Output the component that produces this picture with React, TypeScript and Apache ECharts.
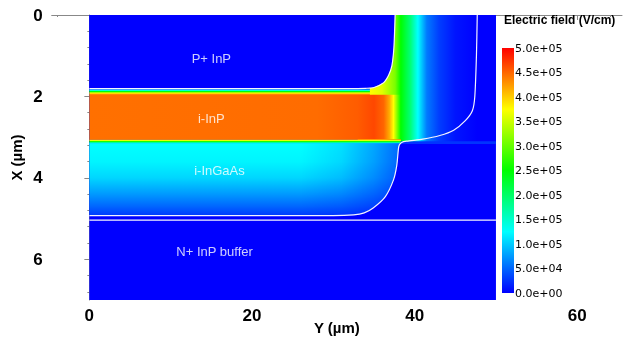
import React, { useEffect, useRef } from 'react';
import * as echarts from 'echarts';

// ---- axis ticks ----
const xMajorTicks = [0, 20, 40, 60];
const xMinorTicks = [-4, 4, 8, 12, 16, 24, 28, 32, 36, 44, 48, 52, 56, 64];
const yMajorTicks = [0, 2, 4, 6];
const yMinorTicks = [0.4, 0.8, 1.2, 1.6, 2.4, 2.8, 3.2, 3.6, 4.4, 4.8, 5.2, 5.6, 6.4, 6.8];

// ---- colour scale (V/cm) ----
const scaleKnots = [0, 1.25e5, 2.5e5, 3.75e5, 5e5];
const scaleColors = [[0, 0, 255], [0, 255, 255], [0, 255, 0], [255, 255, 0], [255, 0, 0]];
const scaleMax = 5e5;
const scaleStep = 5e4;

// ---- device extent (µm) ----
const deviceWidth = 50;
const deviceDepth = 7;

// ---- layer labels ----
const layerNames = ['P+ InP', 'i-InP', 'i-InGaAs', 'N+ InP buffer'];
const layerLabelY = [15, 15, 16, 15.4];
const layerLabelX = [1.06, 2.53, 3.81, 5.8];

// ---- field across the mesa edge, top layers (Y µm -> V/cm) ----
const edgeY = [33, 36, 37.6, 38.3, 39.5, 40.4, 41.5, 43, 45, 47.7];
const edgeE = [3.9e5, 3.6e5, 3.1e5, 2.5e5, 1.9e5, 1.25e5, 0.6e5, 0.3e5, 0.1e5, 0];
const edgeBottomX = 3.12;

// ---- field along the i-InP layer (Y µm -> V/cm) ----
const inpY = [0, 28, 33, 35, 36.2, 36.9, 37.4, 38.3];
const inpE = [4.45e5, 4.47e5, 4.55e5, 4.65e5, 4.5e5, 4.15e5, 3.75e5, 2.5e5];

// ---- P+/i-InP interface (X µm -> V/cm) ----
const topTransX = [1.81, 1.85, 1.88, 1.91, 1.94, 1.97];
const topTransE = [0, 1.25e5, 2.5e5, 3.5e5, 4.2e5, 4.45e5];

// ---- i-InP/i-InGaAs interface (X µm -> V/cm) ----
const botTransX = [3.05, 3.08, 3.11, 3.14, 3.16];
const botTransE = [4.45e5, 3.75e5, 2.5e5, 1.5e5, 1.25e5];

// ---- field down the i-InGaAs layer (X µm -> V/cm) ----
const gaX = [3.16, 3.6, 4.0, 4.4, 4.7, 4.93];
const gaE = [1.25e5, 1.2e5, 1.05e5, 0.75e5, 0.5e5, 0.28e5];

// ---- lateral decay of the i-InGaAs field near the edge (Y µm -> fraction) ----
const fadeY = [26, 31, 35, 38.3];
const fadeA = [0, 0.12, 0.35, 0.6];

// ---- thin cap line at X≈3.13 beyond the mesa ----
const capE = 0.25e5;

// ---- depletion boundaries (white lines) ----
const pEdgeY = [0, 32, 34.0, 35.0, 36.2, 36.8, 37.2, 37.45, 37.6];
const pEdgeX = [1.81, 1.81, 1.8, 1.78, 1.66, 1.48, 1.25, 0.8, 0];
const nEdgeY = [47.7, 47.6, 47.4, 47.1, 46.2, 44.8, 43.1, 41, 39, 38.4, 38.1, 38.0, 37.8, 37.4, 36.4, 34.9, 33.8, 32.5, 30, 0];
const nEdgeX = [0, 1.0, 2.0, 2.35, 2.6, 2.83, 2.96, 3.05, 3.1, 3.13, 3.2, 3.3, 3.7, 4.05, 4.46, 4.74, 4.86, 4.91, 4.93, 4.93];
const interfaceX = 5.04;

const FONT = '"Liberation Sans", Arial, sans-serif';

function colorOf(v: number): string {
  const t = Math.max(0, Math.min(scaleMax, v));
  for (let i = 0; i < scaleKnots.length - 1; i++) {
    if (t <= scaleKnots[i + 1]) {
      const f = (t - scaleKnots[i]) / (scaleKnots[i + 1] - scaleKnots[i]);
      const a = scaleColors[i], b = scaleColors[i + 1];
      const c = a.map((x, k) => Math.round(x + (b[k] - x) * f));
      return `rgb(${c[0]},${c[1]},${c[2]})`;
    }
  }
  const c = scaleColors[scaleColors.length - 1];
  return `rgb(${c[0]},${c[1]},${c[2]})`;
}

function fieldStops(pos: number[], val: number[]) {
  const p0 = pos[0], p1 = pos[pos.length - 1];
  const span = p1 - p0 || 1;
  const out: { offset: number; color: string }[] = [];
  const push = (p: number, v: number) => out.push({ offset: Math.max(0, Math.min(1, (p - p0) / span)), color: colorOf(v) });
  for (let i = 0; i < pos.length - 1; i++) {
    push(pos[i], val[i]);
    const a = val[i], b = val[i + 1];
    const knots = scaleKnots.filter(k => (k > Math.min(a, b) && k < Math.max(a, b)));
    if (b < a) knots.reverse();
    knots.forEach(k => push(pos[i] + (pos[i + 1] - pos[i]) * (k - a) / (b - a), k));
  }
  push(pos[pos.length - 1], val[val.length - 1]);
  return out;
}

function fmtExp(v: number): string {
  if (v === 0) return '0.0e+00';
  const e = Math.floor(Math.log10(v) + 1e-9);
  const m = v / Math.pow(10, e);
  return `${m.toFixed(1)}e+${String(e).padStart(2, '0')}`;
}

const rect = (y0: number, y1: number, x0: number, x1: number) => [[y0, x0], [y1, x0], [y1, x1], [y0, x1]];

export default function App() {
  const ref = useRef<HTMLDivElement>(null);
  useEffect(() => {
    if (!ref.current) return;
    const chart = echarts.init(ref.current, null, { renderer: 'svg' });

    const pEdgePts = pEdgeY.map((y, i) => [y, pEdgeX[i]]);
    const nEdgePts = nEdgeY.map((y, i) => [y, nEdgeX[i]]);
    const pPoly = [[0, 0], ...pEdgePts.slice().reverse()];
    const gaPoly = [[0, 3.15], [38.3, 3.15], ...nEdgePts.slice(10)];

    const regions: any[] = [
      { poly: rect(0, deviceWidth, 0, deviceDepth), dir: 'h', at: [0, deviceWidth], val: [0, 0] },
      { poly: rect(edgeY[0], deviceWidth, 0, edgeBottomX), dir: 'h', at: edgeY, val: edgeE },
      { poly: rect(0, 34.5, 1.8, 1.97), dir: 'v', at: topTransX, val: topTransE },
      { poly: rect(0, 38.3, 1.96, 3.06), dir: 'h', at: inpY, val: inpE },
      { poly: rect(0, 38.3, 3.05, 3.16), dir: 'v', at: botTransX, val: botTransE },
      { poly: gaPoly, dir: 'v', at: gaX, val: gaE },
      { poly: gaPoly, dir: 'h', at: fadeY, alpha: fadeA },
      { poly: pPoly, dir: 'h', at: [0, deviceWidth], val: [0, 0] },
      { poly: rect(38.3, deviceWidth, 3.1, 3.17), dir: 'h', at: [38.3, deviceWidth], val: [capE, capE] },
    ];

    const option: any = {
      animation: false,
      title: {
        text: 'Electric field (V/cm)', left: 504, top: 14, padding: 0,
        textStyle: { fontSize: 12, fontWeight: 'bold', color: '#000', fontFamily: FONT },
      },
      grid: [
        { left: 51.7, top: 15, width: 570.3, height: 285, outerBoundsMode: 'none', containLabel: false },
        { left: 502, top: 48, width: 12, height: 245, outerBoundsMode: 'none', containLabel: false },
      ],
      xAxis: [
        {
          gridIndex: 0, type: 'value', min: -4.63, max: 65.5, position: 'bottom',
          axisLine: { lineStyle: { color: '#888' } },
          axisTick: { customValues: xMajorTicks, length: 5, lineStyle: { color: '#888' } },
          axisLabel: { customValues: xMajorTicks, fontSize: 17, fontWeight: 'bold', color: '#000', margin: 7, fontFamily: FONT },
          splitLine: { show: false },
          name: 'Y (µm)', nameLocation: 'middle', nameGap: 20, nameMoveOverlap: false,
          nameTextStyle: { fontSize: 15, fontWeight: 'bold', color: '#000', fontFamily: FONT },
        },
        {
          gridIndex: 0, type: 'value', min: -4.63, max: 65.5, position: 'bottom',
          axisLine: { show: false },
          axisTick: { customValues: xMinorTicks, length: 2, lineStyle: { color: '#888' } },
          axisLabel: { show: false },
          splitLine: { show: false },
        },
        { gridIndex: 1, type: 'value', min: 0, max: 1, show: false },
      ],
      yAxis: [
        {
          gridIndex: 0, type: 'value', min: 0, max: deviceDepth, inverse: true, position: 'left',
          axisLine: { lineStyle: { color: '#888' } },
          axisTick: { customValues: yMajorTicks, length: 5, lineStyle: { color: '#888' } },
          axisLabel: { customValues: yMajorTicks, fontSize: 17, fontWeight: 'bold', color: '#000', margin: 9, fontFamily: FONT },
          splitLine: { show: false },
          name: 'X (µm)', nameLocation: 'middle', nameGap: 28, nameMoveOverlap: false,
          nameTextStyle: { fontSize: 15, fontWeight: 'bold', color: '#000', fontFamily: FONT },
        },
        {
          gridIndex: 0, type: 'value', min: 0, max: deviceDepth, inverse: true, position: 'left',
          axisLine: { show: false },
          axisTick: { customValues: yMinorTicks, length: 2, lineStyle: { color: '#888' } },
          axisLabel: { show: false },
          splitLine: { show: false },
        },
        {
          gridIndex: 1, type: 'value', min: 0, max: scaleMax, interval: scaleStep, position: 'right',
          axisLine: { show: false }, axisTick: { show: false }, splitLine: { show: false },
          axisLabel: { margin: 1, fontSize: 11, color: '#000', fontFamily: '"DejaVu Sans", sans-serif', formatter: (v: number) => fmtExp(v) },
        },
      ],
      series: [
        {
          type: 'custom', xAxisIndex: 0, yAxisIndex: 0, silent: true,
          data: regions.map((_, i) => [0, 0, i]),
          renderItem: (params: any, api: any) => {
            const r = regions[params.dataIndex];
            const pts = r.poly.map((p: number[]) => api.coord(p));
            const a: number[] = r.dir === 'h'
              ? r.at.map((v: number) => api.coord([v, 0])[0])
              : r.at.map((v: number) => api.coord([0, v])[1]);
            const p0 = a[0], p1 = a[a.length - 1];
            const stops = r.alpha
              ? r.alpha.map((al: number, i: number) => ({ offset: (a[i] - p0) / (p1 - p0), color: `rgba(0,0,255,${al})` }))
              : fieldStops(a, r.val);
            const fill = r.dir === 'h'
              ? new echarts.graphic.LinearGradient(p0, 0, p1, 0, stops, true)
              : new echarts.graphic.LinearGradient(0, p0, 0, p1, stops, true);
            return { type: 'polygon', shape: { points: pts }, style: { fill } };
          },
        },
        {
          type: 'line', xAxisIndex: 0, yAxisIndex: 0, data: pEdgePts, symbol: 'none', smooth: 0.25, silent: true,
          lineStyle: { color: '#f4f4ff', width: 1.2 },
        },
        {
          type: 'line', xAxisIndex: 0, yAxisIndex: 0, data: nEdgePts, symbol: 'none', smooth: 0.25, silent: true,
          lineStyle: { color: '#f4f4ff', width: 1.2 },
        },
        {
          type: 'line', xAxisIndex: 0, yAxisIndex: 0, data: [[0, interfaceX], [deviceWidth, interfaceX]], symbol: 'none', silent: true,
          lineStyle: { color: '#f4f4ff', width: 1.2 },
        },
        {
          type: 'scatter', xAxisIndex: 0, yAxisIndex: 0, silent: true, symbolSize: 1,
          itemStyle: { color: 'rgba(0,0,0,0)' },
          data: layerNames.map((n, i) => [layerLabelY[i], layerLabelX[i], n]),
          label: { show: true, position: 'inside', formatter: (p: any) => p.data[2], color: '#fff', fontSize: 13, fontFamily: FONT },
        },
        {
          type: 'custom', xAxisIndex: 2, yAxisIndex: 2, silent: true,
          data: [[0, 0]],
          renderItem: (_params: any, api: any) => {
            const top = api.coord([0, scaleMax]);
            const bot = api.coord([1, 0]);
            const stops = scaleKnots.map((k) => ({ offset: k / scaleMax, color: colorOf(k) }));
            return {
              type: 'rect',
              shape: { x: top[0], y: top[1], width: bot[0] - top[0], height: bot[1] - top[1] },
              style: { fill: new echarts.graphic.LinearGradient(0, bot[1], 0, top[1], stops, true) },
            };
          },
        },
      ],
    };
    chart.setOption(option);
    return () => chart.dispose();
  }, []);
  return <div ref={ref} style={{ position: 'fixed', left: 0, top: 0, width: 623, height: 343 }} />;
}
